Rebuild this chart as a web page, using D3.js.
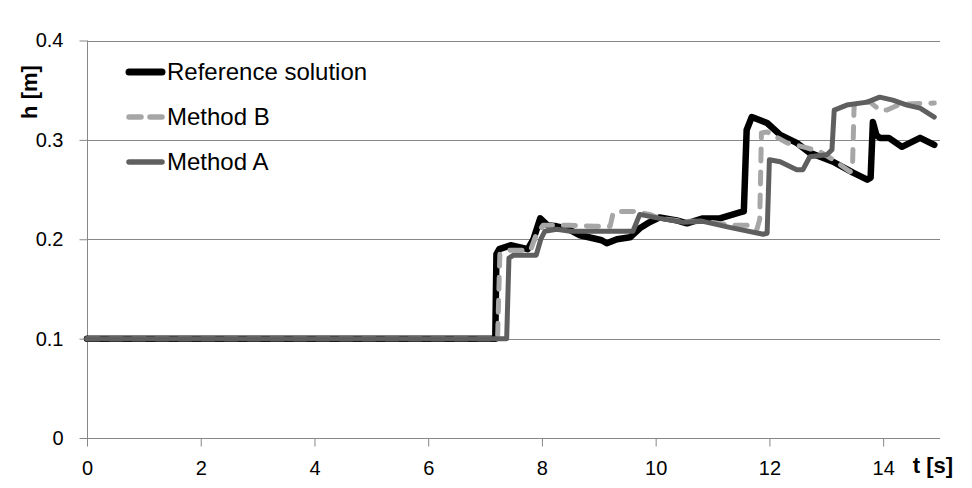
<!DOCTYPE html>
<html>
<head>
<meta charset="utf-8">
<script src="https://cdn.jsdelivr.net/npm/d3@7"></script>
<style>
  body { margin: 0; background: white; }
  svg { display: block; font-family: "Liberation Sans", Arial, sans-serif; }
</style>
</head>
<body>
<svg width="972" height="488"></svg>
<script>
// Values: [t (s), h (m)].
const referenceSolution = [
  [0, 0.1], [7.18, 0.1], [7.2, 0.185], [7.25, 0.19], [7.45, 0.194], [7.6, 0.192],
  [7.75, 0.19], [7.85, 0.2], [7.97, 0.221], [8.1, 0.214], [8.26, 0.213], [8.44, 0.211],
  [8.67, 0.204], [8.9, 0.201], [9.05, 0.199], [9.14, 0.196], [9.32, 0.2], [9.55, 0.202],
  [9.72, 0.211], [9.89, 0.217], [10.07, 0.222], [10.37, 0.219], [10.55, 0.216],
  [10.83, 0.221], [11.13, 0.221], [11.48, 0.227], [11.55, 0.228], [11.6, 0.31],
  [11.69, 0.323], [11.96, 0.317], [12.19, 0.305], [12.48, 0.297], [12.71, 0.287],
  [13.12, 0.278], [13.47, 0.267], [13.72, 0.26], [13.78, 0.262], [13.82, 0.318],
  [13.88, 0.305], [13.94, 0.302], [14.1, 0.302], [14.33, 0.293], [14.65, 0.302], [14.9, 0.295]
];

const methodB = [
  [0, 0.1], [7.22, 0.1], [7.26, 0.185], [7.44, 0.189], [7.8, 0.189], [7.9, 0.205],
  [8.02, 0.214], [8.49, 0.214], [8.97, 0.213], [9.2, 0.213], [9.25, 0.226], [9.32, 0.228],
  [9.6, 0.228], [9.72, 0.227], [9.89, 0.225], [10.07, 0.221], [10.5, 0.218], [10.83, 0.218],
  [11.36, 0.214], [11.69, 0.214], [11.78, 0.21], [11.83, 0.22], [11.86, 0.307],
  [11.96, 0.308], [12.31, 0.297], [12.66, 0.292], [12.89, 0.288], [13.12, 0.28],
  [13.42, 0.268], [13.46, 0.27], [13.49, 0.335], [13.59, 0.338], [13.77, 0.338],
  [13.94, 0.33], [14.07, 0.33], [14.3, 0.336], [14.9, 0.337]
];

const methodA = [
  [0, 0.1], [7.38, 0.1], [7.42, 0.181], [7.5, 0.184], [7.9, 0.184], [7.98, 0.2],
  [8.05, 0.208], [8.26, 0.21], [8.5, 0.208], [9.0, 0.208], [9.6, 0.208], [9.72, 0.225],
  [10.07, 0.221], [10.5, 0.217], [10.83, 0.218], [11.3, 0.212], [11.89, 0.205],
  [11.96, 0.206], [12.0, 0.28], [12.19, 0.278], [12.48, 0.27], [12.59, 0.27],
  [12.71, 0.283], [13.01, 0.285], [13.1, 0.29], [13.14, 0.33], [13.36, 0.335],
  [13.72, 0.338], [13.94, 0.343], [14.17, 0.34], [14.42, 0.335], [14.65, 0.332], [14.9, 0.323]
];

const xTicks = [0, 2, 4, 6, 8, 10, 12, 14];
const yTicks = [0, 0.1, 0.2, 0.3, 0.4];

// Series in legend order; drawing order is reversed further down so Method A sits on top.
const series = [
  {name: "Reference solution", data: referenceSolution, color: "#000000", width: 6.5, dash: null},
  {name: "Method B", data: methodB, color: "#a6a6a6", width: 5, dash: "12,11"},
  {name: "Method A", data: methodA, color: "#5f5f5f", width: 5, dash: null}
];


const svg = d3.select("svg");

const x = d3.scaleLinear().domain([0, 15]).range([87, 940]);
const y = d3.scaleLinear().domain([0, 0.4]).range([438, 40.5]);

const gridcolor = "#878787";

// Horizontal gridlines.
svg.append("g")
  .selectAll("line")
  .data(yTicks.slice(1))
  .enter()
  .append("line")
    .attr("x1", x(0))
    .attr("x2", x(15))
    .attr("y1", d => Math.round(y(d)) + 0.5)
    .attr("y2", d => Math.round(y(d)) + 0.5)
    .attr("stroke", gridcolor)
    .attr("stroke-width", 1);

// Y axis.
let yaxis = svg.append("g")
  .attr("transform", `translate(${x(0) + 0.5},0)`)
  .call(d3.axisLeft(y).tickValues(yTicks).tickSize(8).tickPadding(16)
    .tickFormat(d => d == 0 ? "0" : d3.format(".1f")(d)));

// X axis.
let xaxis = svg.append("g")
  .attr("transform", `translate(0,${Math.round(y(0)) + 0.5})`)
  .call(d3.axisBottom(x).tickValues(xTicks).tickSize(8).tickPadding(14).tickSizeOuter(0));

[yaxis, xaxis].forEach(a => {
  a.selectAll("path, line").attr("stroke", gridcolor);
  a.select("path.domain").attr("d", a === yaxis
    ? `M0,${y(0.4)}V${y(0)}`
    : `M${x(0)},0H${x(15)}`);
  a.selectAll("text")
    .attr("fill", "#000")
    .style("font-size", "20px")
    .style("font-family", "\"Liberation Sans\", Arial, sans-serif");
}); // forEach

// Axis titles.
svg.append("text")
  .attr("transform", `translate(37,92) rotate(-90)`)
  .attr("text-anchor", "middle")
  .style("font-size", "22px")
  .style("font-weight", "bold")
  .text("h [m]");

svg.append("text")
  .attr("x", 933)
  .attr("y", 473)
  .attr("text-anchor", "middle")
  .style("font-size", "22px")
  .style("font-weight", "bold")
  .text("t [s]");


// The lines.
const line = d3.line()
  .x(d => x(d[0]))
  .y(d => y(d[1]));

svg.append("g")
  .selectAll("path")
  .data(series.slice())
  .enter()
  .append("path")
    .attr("d", d => line(d.data))
    .attr("fill", "none")
    .attr("stroke", d => d.color)
    .attr("stroke-width", d => d.width)
    .attr("stroke-dasharray", d => d.dash)
    .attr("stroke-linecap", "round")
    .attr("stroke-linejoin", "round");


// Legend.
let legend = svg.append("g")
  .selectAll("g")
  .data(series)
  .enter()
  .append("g")
    .attr("transform", (d, i) => `translate(129,${72 + i * 45})`);

legend.append("line")
  .attr("x1", 0)
  .attr("x2", 33)
  .attr("stroke", d => d.color)
  .attr("stroke-width", d => d.width + 0.5)
  .attr("stroke-dasharray", d => d.dash ? "12,9" : null)
  .attr("stroke-linecap", "round");

legend.append("text")
  .attr("x", 38)
  .attr("y", 8)
  .style("font-size", "24px")
  .text(d => d.name);
</script>
</body>
</html>
